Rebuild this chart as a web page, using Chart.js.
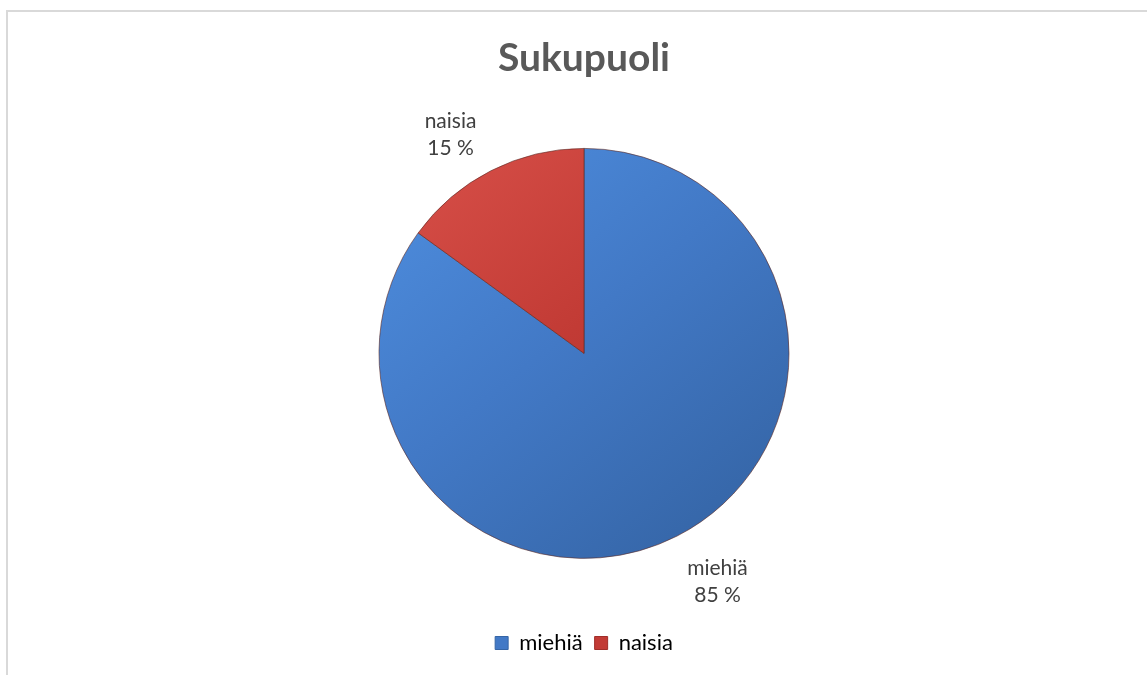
<!DOCTYPE html>
<html>
<head>
<meta charset="utf-8">
<script src="https://cdn.jsdelivr.net/npm/chart.js@4"></script>
<style>
  body { margin: 0; background: #fff; }
  #wrap { position: relative; width: 1147px; height: 675px; }
  #frame { position: absolute; left: 6px; top: 10px; right: 0; bottom: 0;
           border-top: 2px solid #d9d9d9; border-left: 2px solid #d9d9d9; }
  #chart { position: absolute; left: 0; top: 0; }
</style>
</head>
<body>
<div id="wrap">
  <div id="frame"></div>
  <canvas id="chart" width="1147" height="675"></canvas>
</div>
<script>
const chartTitle = 'Sukupuoli';
const categories = ['miehiä', 'naisia'];
const values = [85, 15];
const percentLabels = ['85 %', '15 %'];

const baseColors = ['#4279c6', '#c23b35'];
const lightColors = ['#4f8fe0', '#d9514a'];
const darkColors = ['#3565a6', '#a02e29'];

function sliceFill(ctx) {
  const chart = ctx.chart;
  const i = ctx.dataIndex;
  const area = chart.chartArea;
  if (!area) return baseColors[i];
  const cx = (area.left + area.right) / 2;
  const cy = (area.top + area.bottom) / 2;
  const r = 205;
  const g = chart.ctx.createLinearGradient(cx - r, cy - r, cx + r * 0.6, cy + r);
  g.addColorStop(0, lightColors[i]);
  g.addColorStop(0.5, baseColors[i]);
  g.addColorStop(1, darkColors[i]);
  return g;
}

// data labels outside the slices (name + percent)
const outsideLabels = {
  id: 'outsideLabels',
  afterDatasetsDraw(chart) {
    const c = chart.ctx;
    const meta = chart.getDatasetMeta(0);
    c.save();
    c.fillStyle = '#404040';
    c.font = '21px Lato';
    c.textAlign = 'center';
    c.textBaseline = 'middle';
    meta.data.forEach((arc, i) => {
      const p = arc.getProps(['x', 'y', 'startAngle', 'endAngle', 'outerRadius'], true);
      const mid = (p.startAngle + p.endAngle) / 2;
      const d = p.outerRadius + 56;
      const x = p.x + Math.cos(mid) * d + Math.sign(Math.cos(mid)) * 15;
      const y = p.y + Math.sin(mid) * d - Math.sign(Math.sin(mid)) * 9 + 4;
      c.fillText(categories[i], x, y - 13);
      c.fillText(percentLabels[i], x, y + 14);
    });
    c.restore();
  }
};

new Chart(document.getElementById('chart').getContext('2d'), {
  type: 'pie',
  data: {
    labels: categories,
    datasets: [{
      data: values,
      backgroundColor: sliceFill,
      borderColor: 'rgba(90,40,35,0.6)',
      borderWidth: 1,
      radius: 205
    }]
  },
  options: {
    responsive: false,
    animation: false,
    layout: { padding: { left: 21, bottom: 11 } },
    plugins: {
      title: {
        display: true,
        text: chartTitle,
        color: '#595959',
        font: { family: 'Lato', size: 39, weight: 'bold' },
        padding: { top: 35, bottom: 5 }
      },
      legend: {
        position: 'bottom',
        labels: {
          color: '#595959',
          font: { family: 'Lato', size: 22 },
          boxWidth: 13,
          boxHeight: 13,
          padding: 12,
          generateLabels(chart) {
            return categories.map((name, i) => ({
              text: name,
              fillStyle: baseColors[i],
              strokeStyle: darkColors[i],
              lineWidth: 1,
              index: i
            }));
          }
        }
      },
      tooltip: { enabled: false }
    }
  },
  plugins: [outsideLabels]
});
</script>
</body>
</html>
